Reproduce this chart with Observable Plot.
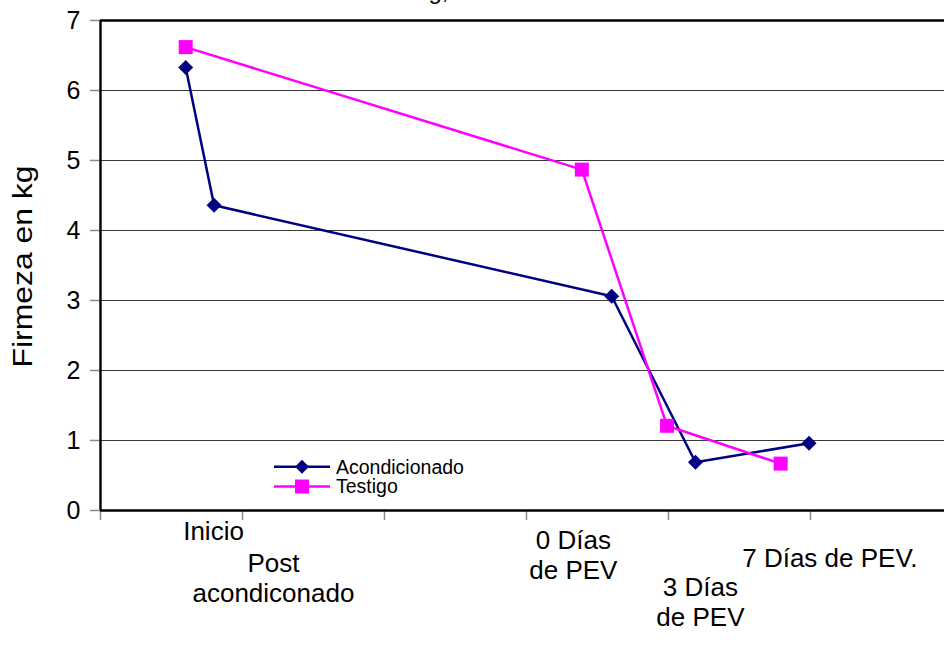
<!DOCTYPE html>
<html>
<head>
<meta charset="utf-8">
<script src="https://cdn.jsdelivr.net/npm/d3@7"></script>
<script src="https://cdn.jsdelivr.net/npm/@observablehq/plot@0.6"></script>
<style>
  html, body { margin: 0; padding: 0; background: #fff; }
  #chart { width: 944px; height: 656px; overflow: hidden; }
  #chart svg { overflow: visible; }
</style>
</head>
<body>
<div id="chart"></div>
<script>
// ---- data ----
const seriesNames = ["Acondicionado", "Testigo"];
const seriesColors = ["#000080", "#FF00FF"];
const acondX = [0.60, 0.80, 3.60, 4.19, 4.99];
const acondY = [6.33, 4.36, 3.06, 0.69, 0.96];
const testigoX = [0.60, 3.39, 3.99, 4.79];
const testigoY = [6.62, 4.87, 1.21, 0.67];
const yTicks = [0, 1, 2, 3, 4, 5, 6, 7];
const xTicks = [0, 1, 2, 3, 4, 5];
const xDomain = [0, 5.944];
const yDomain = [0, 7];
const stageLabels = ["Inicio", "Post\nacondiconado", "0 Días\nde PEV", "3 Días\nde PEV", "7 Días de PEV."];
const stageX = [0.796, 1.218, 3.33, 4.225, 5.137];
const yTitle = "Firmeza en kg";
const titleText = "Firmeza en kg,";

// ---- layout ----
const stageDy = [19.5, 66.5, 43.5, 91, 47];
const FONT = "'Liberation Sans', Arial, Helvetica, sans-serif";

const acondRows = acondX.map((x, i) => ({x, y: acondY[i]}));
const testigoRows = testigoX.map((x, i) => ({x, y: testigoY[i]}));

const diamond = {draw(ctx, size) { const r = Math.sqrt(size / Math.PI); ctx.moveTo(0, -r); ctx.lineTo(r, 0); ctx.lineTo(0, r); ctx.lineTo(-r, 0); ctx.closePath(); }};
const square = {draw(ctx, size) { const r = Math.sqrt(size / Math.PI); ctx.rect(-r, -r, 2 * r, 2 * r); }};

const gridVals = yTicks.filter(d => d > yDomain[0] && d < yDomain[1]);

const stageMarks = stageLabels.map((t, i) => Plot.text([i], {
  x: d => stageX[d], text: d => stageLabels[d],
  frameAnchor: "bottom", dy: stageDy[i], fontSize: 26, lineHeight: 1.15,
  fill: "black", textAnchor: "middle", lineAnchor: "middle"
}));

const chart = Plot.plot({
  width: 944,
  height: 656,
  marginLeft: 100,
  marginRight: 0,
  marginTop: 20,
  marginBottom: 146,
  style: {fontFamily: FONT, background: "white", overflow: "visible", color: "black"},
  x: {domain: xDomain},
  y: {domain: yDomain},
  marks: [
    Plot.ruleY(gridVals, {stroke: "#3a3a3a", strokeWidth: 1.2}),
    Plot.axisY(yTicks, {tickSize: 10, tickPadding: 10, fontSize: 25, stroke: "#8a8a8a", strokeWidth: 1.5, label: null, tickFormat: d => String(d)}),
    Plot.axisX(xTicks, {tickSize: 10, tickFormat: () => "", stroke: "#8a8a8a", strokeWidth: 1.5, label: null}),
    Plot.ruleY([yDomain[1]], {stroke: "black", strokeWidth: 2.6}),
    Plot.ruleY([yDomain[0]], {stroke: "black", strokeWidth: 2.4}),
    Plot.ruleX([xDomain[0]], {stroke: "black", strokeWidth: 2.4}),
    Plot.line(acondRows, {x: "x", y: "y", stroke: seriesColors[0], strokeWidth: 2.5}),
    Plot.line(testigoRows, {x: "x", y: "y", stroke: seriesColors[1], strokeWidth: 2.5}),
    Plot.dot(acondRows, {x: "x", y: "y", symbol: diamond, r: 7.5, fill: seriesColors[0], stroke: "none"}),
    Plot.dot(testigoRows, {x: "x", y: "y", symbol: square, r: 7, fill: seriesColors[1], stroke: "none"}),
    ...stageMarks,
    Plot.text([yTitle], {frameAnchor: "left", rotate: -90, dx: -77, dy: 102, textAnchor: "start", fontSize: 28, fill: "black"}),
    Plot.text([titleText], {frameAnchor: "top-left", dx: 348, dy: -29, textAnchor: "end", lineAnchor: "middle", fontSize: 24, fill: "black"})
  ]
});

document.getElementById("chart").appendChild(chart);

// stretch y title to reference length
d3.select(chart).selectAll("text").filter(function() { return this.textContent === yTitle; })
  .attr("textLength", 202).attr("lengthAdjust", "spacingAndGlyphs");

// ---- legend (inside plot area) ----
const legendRows = [
  {name: seriesNames[0], color: seriesColors[0], sym: "diamond", cy: 466.7},
  {name: seriesNames[1], color: seriesColors[1], sym: "square", cy: 486.5}
];
const lg = d3.select(chart).append("g").attr("font-family", FONT).attr("text-anchor", "start");
legendRows.forEach(r => {
  lg.append("line").attr("x1", 274).attr("x2", 330).attr("y1", r.cy).attr("y2", r.cy)
    .attr("stroke", r.color).attr("stroke-width", 2.5);
  if (r.sym === "diamond") {
    lg.append("path").attr("d", `M302,${r.cy - 7}L309,${r.cy}L302,${r.cy + 7}L295,${r.cy}Z`).attr("fill", r.color);
  } else {
    lg.append("rect").attr("x", 295).attr("y", r.cy - 7).attr("width", 14).attr("height", 14).attr("fill", r.color);
  }
  lg.append("text").attr("x", 336).attr("y", r.cy).attr("dy", "0.35em").attr("font-size", 19.5)
    .attr("text-anchor", "start").attr("fill", "black").text(r.name);
});
</script>
</body>
</html>
